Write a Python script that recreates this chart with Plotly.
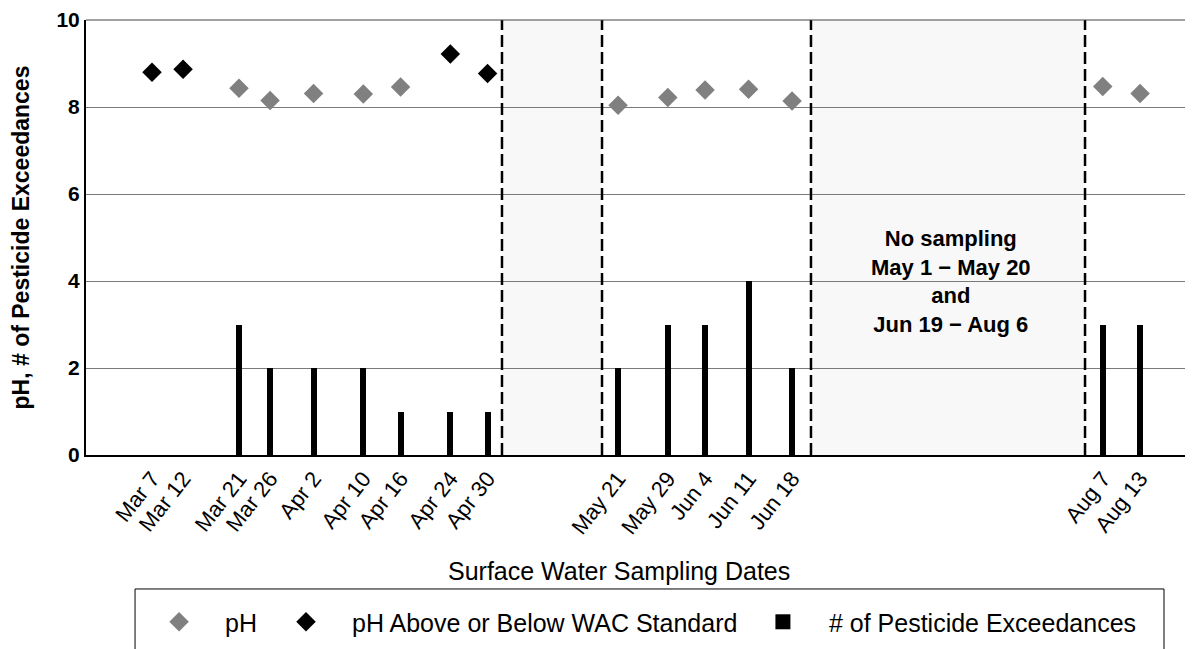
import plotly.graph_objects as go

# ---------------- data ----------------
sample_dates = ["2013-03-07", "2013-03-12", "2013-03-21", "2013-03-26", "2013-04-02",
                "2013-04-10", "2013-04-16", "2013-04-24", "2013-04-30", "2013-05-21",
                "2013-05-29", "2013-06-04", "2013-06-11", "2013-06-18", "2013-08-07",
                "2013-08-13"]
tick_labels = ["Mar 7", "Mar 12", "Mar 21", "Mar 26", "Apr 2", "Apr 10", "Apr 16", "Apr 24",
               "Apr 30", "May 21", "May 29", "Jun 4", "Jun 11", "Jun 18", "Aug 7", "Aug 13"]
ph_values = [8.80, 8.87, 8.43, 8.15, 8.31, 8.30, 8.46, 9.22, 8.77, 8.04, 8.22, 8.39, 8.41,
             8.14, 8.47, 8.31]
ph_outside_wac = [True, True, False, False, False, False, False, True, True, False, False,
                  False, False, False, False, False]
pesticide_exceedances = [0, 0, 3, 2, 2, 2, 1, 1, 1, 2, 3, 3, 4, 2, 3, 3]
no_sampling_periods = [("2013-05-02 07:40", "2013-05-18 10:00"),
                       ("2013-06-21 01:00", "2013-08-04 03:30")]
x_range = ["2013-02-24 09:00", "2013-08-21 12:30"]
y_ticks = [0, 2, 4, 6, 8, 10]
annotation_text = "No sampling<br>May 1 − May 20<br>and<br>Jun 19 − Aug 6"
x_title = "Surface Water Sampling Dates"
y_title = "pH, # of Pesticide Exceedances"

FONT = "Liberation Sans, Arial, sans-serif"

ok_x = [d for d, f in zip(sample_dates, ph_outside_wac) if not f]
ok_y = [v for v, f in zip(ph_values, ph_outside_wac) if not f]
bad_x = [d for d, f in zip(sample_dates, ph_outside_wac) if f]
bad_y = [v for v, f in zip(ph_values, ph_outside_wac) if f]

fig = go.Figure()

fig.add_trace(go.Bar(
    x=sample_dates, y=pesticide_exceedances, width=83_000_000,
    marker=dict(color="black", line=dict(width=0)),
    name="# of Pesticide Exceedances", showlegend=False))

fig.add_trace(go.Scatter(
    x=ok_x, y=ok_y, mode="markers", name="pH",
    marker=dict(symbol="diamond", size=15, color="#808080"), legend="legend"))
fig.add_trace(go.Scatter(
    x=bad_x, y=bad_y, mode="markers", name="pH Above or Below WAC Standard",
    marker=dict(symbol="diamond", size=15, color="black"), legend="legend2"))
# legend entry for the bars
fig.add_trace(go.Scatter(
    x=[None], y=[None], mode="markers", name="# of Pesticide Exceedances",
    marker=dict(symbol="square", size=15, color="black"), legend="legend3"))

shapes = []
for x0, x1 in no_sampling_periods:
    shapes.append(dict(type="rect", xref="x", yref="paper", x0=x0, x1=x1, y0=0, y1=1,
                       fillcolor="#f8f8f8", line=dict(width=0), layer="below"))
    for xv in (x0, x1):
        shapes.append(dict(type="line", xref="x", yref="paper", x0=xv, x1=xv, y0=0, y1=1,
                           line=dict(color="black", width=2.5, dash="12px,5px"),
                           layer="above"))
# top frame line of the plot area
shapes.append(dict(type="line", xref="paper", yref="paper", x0=0, x1=1, y0=1, y1=1,
                   line=dict(color="#444444", width=1), layer="above"))
# legend frame
shapes.append(dict(type="rect", xref="paper", yref="paper", x0=0.0443, x1=0.9738,
                   y0=-0.308, y1=-0.52, line=dict(color="black", width=1),
                   fillcolor="rgba(0,0,0,0)"))

leg_common = dict(orientation="h", yanchor="middle", y=-0.384, xanchor="left",
                  bgcolor="rgba(0,0,0,0)", borderwidth=0,
                  font=dict(family=FONT, size=25, color="black"), itemwidth=82)

fig.update_layout(
    width=1185, height=641,
    margin=dict(l=78, r=0, t=12, b=194, autoexpand=False),
    paper_bgcolor="white", plot_bgcolor="white",
    font=dict(family=FONT, color="black"),
    shapes=shapes,
    bargap=0,
    legend=dict(leg_common, x=0.0425),
    legend2=dict(leg_common, x=0.1572),
    legend3=dict(leg_common, x=0.5880),
    annotations=[
        dict(text=annotation_text, xref="paper", yref="y", x=0.7814, y=4.0,
             xanchor="center", yanchor="middle", showarrow=False, align="center",
             font=dict(family=FONT, size=22, color="black", weight="bold")),
        dict(text=x_title, xref="paper", yref="paper", x=0.4815, y=-0.2667,
             xanchor="center", yanchor="middle", showarrow=False,
             font=dict(family=FONT, size=25, color="black")),
    ],
    xaxis=dict(type="date", range=x_range, tickmode="array", tickvals=sample_dates,
               ticktext=tick_labels, tickangle=-52, ticks="", showgrid=False,
               showline=True, linecolor="black", linewidth=2,
               tickfont=dict(family=FONT, size=22, color="black"),
               automargin=False),
    yaxis=dict(range=[0, 10], tickvals=y_ticks, showgrid=True,
               gridcolor="#7a7a7a", gridwidth=1, zeroline=False,
               showline=True, linecolor="black", linewidth=2, ticks="",
               tickfont=dict(family=FONT, size=21, color="black", weight="bold"),
               title=dict(text=y_title, standoff=21,
                          font=dict(family=FONT, size=23, color="black", weight="bold")),
               automargin=False),
)

fig.write_html("out.html")
